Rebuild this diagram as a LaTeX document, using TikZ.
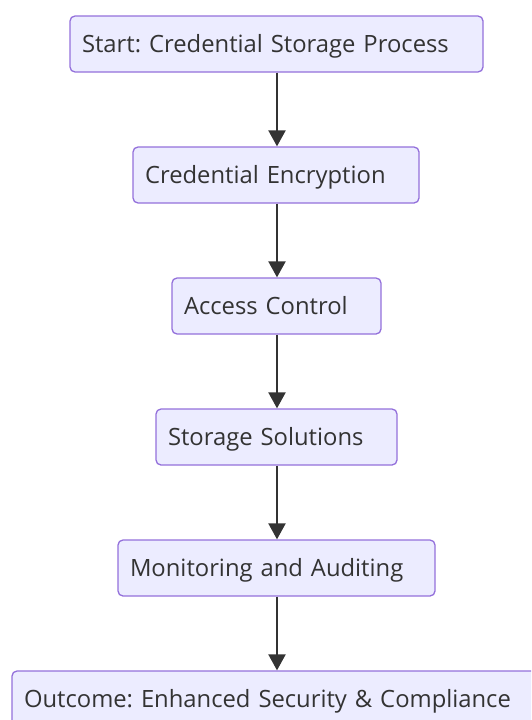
\documentclass[tikz,border=0pt]{standalone}
\usepackage{fontspec}
\setmainfont{Open Sans}
\frenchspacing
\usetikzlibrary{arrows.meta}
\definecolor{boxfill}{HTML}{ECECFF}
\definecolor{boxline}{HTML}{9370DB}
\definecolor{ink}{HTML}{333333}
\begin{document}
\begin{tikzpicture}[x=1pt,y=-1pt,
  stepbox/.style={draw=boxline, fill=boxfill, line width=1.3pt, rounded corners=5pt,
    minimum height=56pt, inner xsep=12pt, inner ysep=0pt, align=left,
    text height=17pt, text depth=0pt,
    text=ink, font=\fontsize{23.8}{28}\selectfont},
  flow/.style={draw=ink, line width=2.2pt, -{Triangle[length=16pt,width=17pt]}}]
  \path[use as bounding box] (0,0) rectangle (531,720);
  \clip (0,0) rectangle (531,720);
  \node[stepbox, text width=389pt] (s1) at (276.5,44) {Start: Credential Storage Process};
  \node[stepbox, text width=262pt] (s2) at (276,175) {Credential Encryption};
  \node[stepbox, text width=185pt] (s3) at (276.5,306) {Access Control};
  \node[stepbox, text width=217pt] (s4) at (276.5,437) {Storage Solutions};
  \node[stepbox, text width=293pt] (s5) at (276.5,568) {Monitoring and Auditing};
  \node[stepbox, text width=505pt] (s6) at (276.5,699) {Outcome: Enhanced Security \& Compliance};
  \draw[flow] (s1.south -| 277,0) -- (s2.north -| 277,0);
  \draw[flow] (s2.south -| 277,0) -- (s3.north -| 277,0);
  \draw[flow] (s3.south -| 277,0) -- (s4.north -| 277,0);
  \draw[flow] (s4.south -| 277,0) -- (s5.north -| 277,0);
  \draw[flow] (s5.south -| 277,0) -- (s6.north -| 277,0);
\end{tikzpicture}
\end{document}
